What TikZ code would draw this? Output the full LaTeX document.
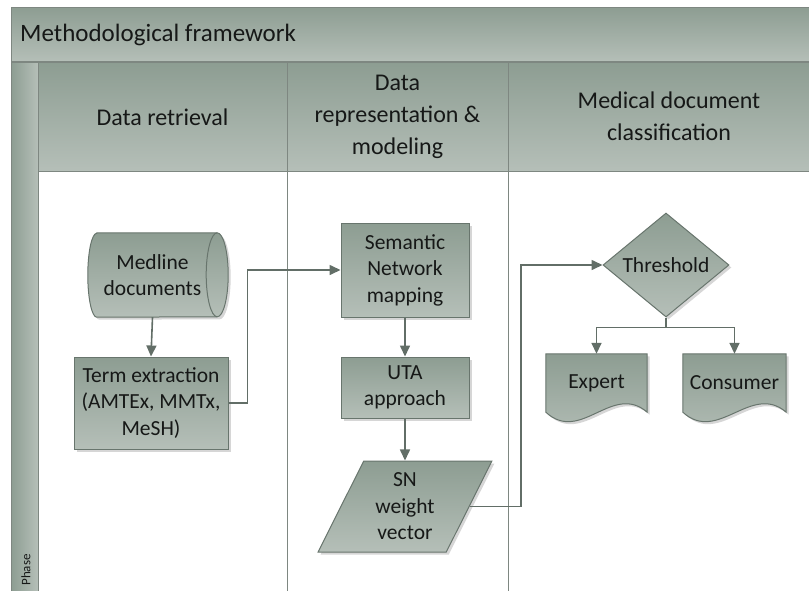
\documentclass[tikz,border=0pt]{standalone}
\usepackage{fontspec}
\setmainfont{Carlito}
\usetikzlibrary{arrows.meta,shapes.geometric,shadows,calc}
\definecolor{shadetop}{RGB}{141,157,146}
\definecolor{shadebot}{RGB}{181,191,184}
\definecolor{edge}{RGB}{104,117,109}
\definecolor{frameline}{RGB}{126,135,129}
\definecolor{wire}{RGB}{98,110,103}
\definecolor{ink}{RGB}{22,24,23}
\pgfdeclarelayer{bg}
\pgfsetlayers{bg,main}

\begin{document}
\begin{tikzpicture}[x=1pt,y=-1pt,
  lbl/.style={font=\fontsize{21.5}{26.5}\selectfont, text=ink, align=center, inner sep=0pt},
  hdr/.style={font=\fontsize{24}{32}\selectfont, text=ink, align=center, inner sep=0pt},
  flowfill/.style={draw=edge, line width=1pt, top color=shadetop, bottom color=shadebot,
    drop shadow={shadow xshift=2.5pt, shadow yshift=-2.5pt, fill=black!20, opacity=0.8}},
  procbox/.style={lbl, flowfill, rectangle},
  holder/.style={lbl, rectangle},
  wiring/.style={draw=wire, line width=1.6pt, -{Triangle[length=11pt,width=10pt]}},
  grid/.style={draw=frameline, line width=1pt}]

\useasboundingbox (0,0) rectangle (809,590);
\clip (0,0) rectangle (809,590);

% swimlane frame
\path[top color=shadetop, bottom color=shadebot] (11,7) rectangle (840,62);
\path[top color=shadetop, bottom color=shadebot] (38,62) rectangle (840,171);
\path[left color=shadetop, right color=shadebot] (11,62) rectangle (38,600);
\draw[grid] (11,600) -- (11,7) -- (840,7);
\draw[grid, line width=1.6pt] (11,62) -- (840,62);
\draw[grid] (38,62) -- (38,600);
\draw[grid] (38,171) -- (840,171);
\draw[grid] (287,62) -- (287,600);
\draw[grid] (508,62) -- (508,600);

\node[anchor=west, font=\fontsize{25}{30}\selectfont, text=ink, inner sep=0pt] (title) at (20,35) {Methodological framework};
\node[hdr] (lane1) at (162.5,117) {Data retrieval};
\node[hdr] (lane2) at (397.5,117) {Data\\representation \&\\modeling};
\node[hdr] (lane3) at (669,116) {Medical document\\classification};
\node[rotate=90, font=\fontsize{13}{13}\selectfont, text=ink, inner sep=0pt] (phase) at (26,570) {Phase};

% process steps
\node[holder, minimum width=129pt, minimum height=84pt] (med) at (152.5,275) {Medline\\documents};
\node[procbox, minimum width=154pt, minimum height=92pt] (term) at (151,403) {Term extraction\\(AMTEx, MMTx,\\MeSH)};
\node[procbox, minimum width=128pt, minimum height=94pt] (sem) at (405,270) {Semantic\\Network\\mapping};
\node[procbox, minimum width=128pt, minimum height=61pt] (uta) at (405,387.5) {UTA\\approach};
\node[lbl, flowfill, trapezium, trapezium left angle=64, trapezium right angle=116,
      trapezium stretches, minimum width=174pt, minimum height=91pt] (snw) at (405,506.5) {SN\\weight\\vector};
\node[lbl, flowfill, diamond, shape aspect=1.25, minimum width=126pt, minimum height=104pt] (thr) at (666,265) {Threshold};
\node[holder, minimum width=101pt, minimum height=58pt] (exp) at (596.5,383) {Expert};
\node[holder, minimum width=103pt, minimum height=58pt] (con) at (734.5,383) {Consumer};

\begin{pgfonlayer}{bg}
  % stored data (horizontal cylinder)
  \path[flowfill] ($(med.north west)+(9,0)$) -- (med.north east)
    arc[start angle=-90, end angle=90, x radius=11, y radius=42]
    -- ($(med.south west)+(9,0)$)
    arc[start angle=90, end angle=270, x radius=9, y radius=42] -- cycle;
  \draw[draw=edge, line width=1pt] (med.north east)
    arc[start angle=-90, end angle=-270, x radius=11, y radius=42];
  % documents with wavy lower edge
  \foreach \d in {exp,con}{
    \path[flowfill] (\d.north west) -- (\d.north east) -- (\d.south east)
      .. controls +(-35,-30) and +(35,32) .. (\d.south west) -- cycle;
  }
\end{pgfonlayer}

% connectors
\draw[wiring] (med.south) -- (term.north);
\draw[wiring] (term.east) -- ++(19,0) |- (sem.west);
\draw[wiring] (sem.south) -- (uta.north);
\draw[wiring] (uta.south) -- (snw.north);
\draw[wiring] (snw.east) -- ++(51.5,0) |- (thr.west);
\draw[wiring] (thr.south) -- ++(0,10) -| (exp.north);
\draw[wiring] (thr.south) -- ++(0,10) -| (con.north);
\end{tikzpicture}
\end{document}
